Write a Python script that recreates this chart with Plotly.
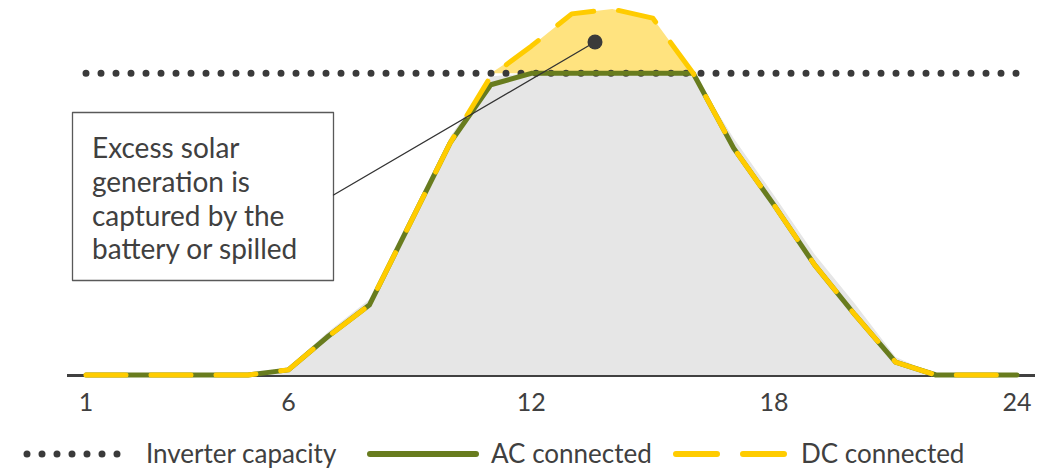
import numpy as np
import plotly.graph_objects as go

# Hour of day and normalised output (inverter capacity = 1.0)
hours = list(range(1, 25))
tick_hours = [1, 6, 12, 18, 24]
capacity = 1.0
ac_connected = [0, 0, 0, 0, 0, 0.017, 0.13, 0.232, 0.50, 0.77, 0.962, 1.0,
                1.0, 1.0, 1.0, 1.0, 0.752, 0.563, 0.365, 0.199, 0.043, 0, 0, 0]
dc_connected = [0, 0, 0, 0, 0, 0.017, 0.13, 0.232, 0.50, 0.77, 0.99, 1.09,
                1.197, 1.213, 1.183, 1.0, 0.752, 0.563, 0.365, 0.199, 0.043, 0, 0, 0]
generation_area = [0, 0, 0, 0, 0, 0.025, 0.145, 0.25, 0.52, 0.79, 0.99, 1.0,
                   1.0, 1.0, 1.0, 1.0, 0.785, 0.595, 0.40, 0.235, 0.06, 0, 0, 0]

callout_lines = ["Excess solar", "generation is", "captured by the", "battery or spilled"]
legend_labels = ["Inverter capacity", "AC connected", "DC connected"]

FONT = "Lato"
TEXT = "#404040"
DARK = "#3a3a3a"
GREEN = "#687c1e"
YELLOW = "#ffcc00"
LIGHT_YELLOW = "#ffe37f"
GREY = "#e6e6e6"

# Plot area geometry in pixels
L, W, T, H = 67, 968, 0, 385


def px(x):
    return (x - L) / W


def py(y):
    return (T + H - y) / H


cap_line = [capacity] * len(hours)
excess_top = np.maximum(np.array(dc_connected), capacity)

fig = go.Figure()
fig.add_trace(go.Scatter(x=hours, y=generation_area, mode="lines", fill="tozeroy",
                         fillcolor=GREY, line=dict(width=0), hoverinfo="skip"))
fig.add_trace(go.Scatter(x=hours, y=cap_line, mode="lines", line=dict(width=0),
                         hoverinfo="skip"))
fig.add_trace(go.Scatter(x=hours, y=excess_top, mode="lines", fill="tonexty",
                         fillcolor=LIGHT_YELLOW, line=dict(width=0), hoverinfo="skip"))
fig.add_trace(go.Scatter(x=hours, y=cap_line, mode="lines", name=legend_labels[0],
                         line=dict(color=DARK, width=7, dash="0px,15px")))
fig.add_trace(go.Scatter(x=hours, y=ac_connected, mode="lines", name=legend_labels[1],
                         line=dict(color=GREEN, width=5)))
fig.add_trace(go.Scatter(x=hours, y=dc_connected, mode="lines", name=legend_labels[2],
                         line=dict(color=YELLOW, width=5, dash="40px,25px")))

shapes = []
annotations = []

# Callout box, leader line and marker dot
shapes.append(dict(type="rect", xref="paper", yref="paper",
                   x0=px(72.5), x1=px(333.5), y0=py(280.5), y1=py(112.5),
                   line=dict(color="#595959", width=1.3), fillcolor="white"))
shapes.append(dict(type="line", xref="paper", yref="paper",
                   x0=px(333.5), y0=py(195), x1=px(595), y1=py(42),
                   line=dict(color="#333333", width=1.3)))
shapes.append(dict(type="circle", xref="paper", yref="paper",
                   x0=px(587.5), x1=px(602.5), y0=py(49.5), y1=py(34.5),
                   line=dict(width=0), fillcolor=DARK))
for i, line in enumerate(callout_lines):
    annotations.append(dict(
        xref="paper", yref="paper", x=px(91), y=py(147.5 + 33.5 * i),
        xanchor="left", yanchor="middle", align="left", showarrow=False, borderpad=0,
        text=line, font=dict(family=FONT, size=28, color=TEXT)))

# Legend row
LEG_Y = 454
shapes.append(dict(type="line", xref="paper", yref="paper",
                   x0=px(27), x1=px(118), y0=py(LEG_Y), y1=py(LEG_Y),
                   line=dict(color=DARK, width=7, dash="0px,15px")))
shapes.append(dict(type="line", xref="paper", yref="paper",
                   x0=px(370), x1=px(476), y0=py(LEG_Y), y1=py(LEG_Y),
                   line=dict(color=GREEN, width=6)))
shapes.append(dict(type="line", xref="paper", yref="paper",
                   x0=px(676), x1=px(784), y0=py(LEG_Y), y1=py(LEG_Y),
                   line=dict(color=YELLOW, width=6, dash="41px,26px")))
for label, x_text in zip(legend_labels, [145, 490, 800]):
    annotations.append(dict(xref="paper", yref="paper", x=px(x_text), y=py(LEG_Y - 1.5),
                            xanchor="left", yanchor="middle", showarrow=False, borderpad=0,
                            text=label, font=dict(family=FONT, size=26, color=TEXT)))

fig.update_layout(
    width=1046, height=469,
    margin=dict(l=L, r=1046 - L - W, t=T, b=469 - T - H),
    paper_bgcolor="white", plot_bgcolor="white",
    showlegend=False,
    font=dict(family=FONT, color=TEXT),
    shapes=shapes, annotations=annotations,
    xaxis=dict(range=[0.5306, 24.445], tickmode="array", tickvals=tick_hours,
               ticktext=[str(h) for h in tick_hours], showgrid=False, zeroline=False,
               showline=False, ticks="", tickfont=dict(family=FONT, size=25, color=TEXT)),
    yaxis=dict(range=[-10 / 301.7, 375 / 301.7], showgrid=False, showticklabels=False,
               zeroline=True, zerolinecolor="#404040", zerolinewidth=2.5,
               showline=False, ticks=""),
)

round_caps = ("var s=document.createElement('style');"
              "s.textContent='.js-line,.shapelayer path{stroke-linecap:round;stroke-linejoin:round}';"
              "document.head.appendChild(s);")
fig.write_html("out.html", post_script=round_caps)
